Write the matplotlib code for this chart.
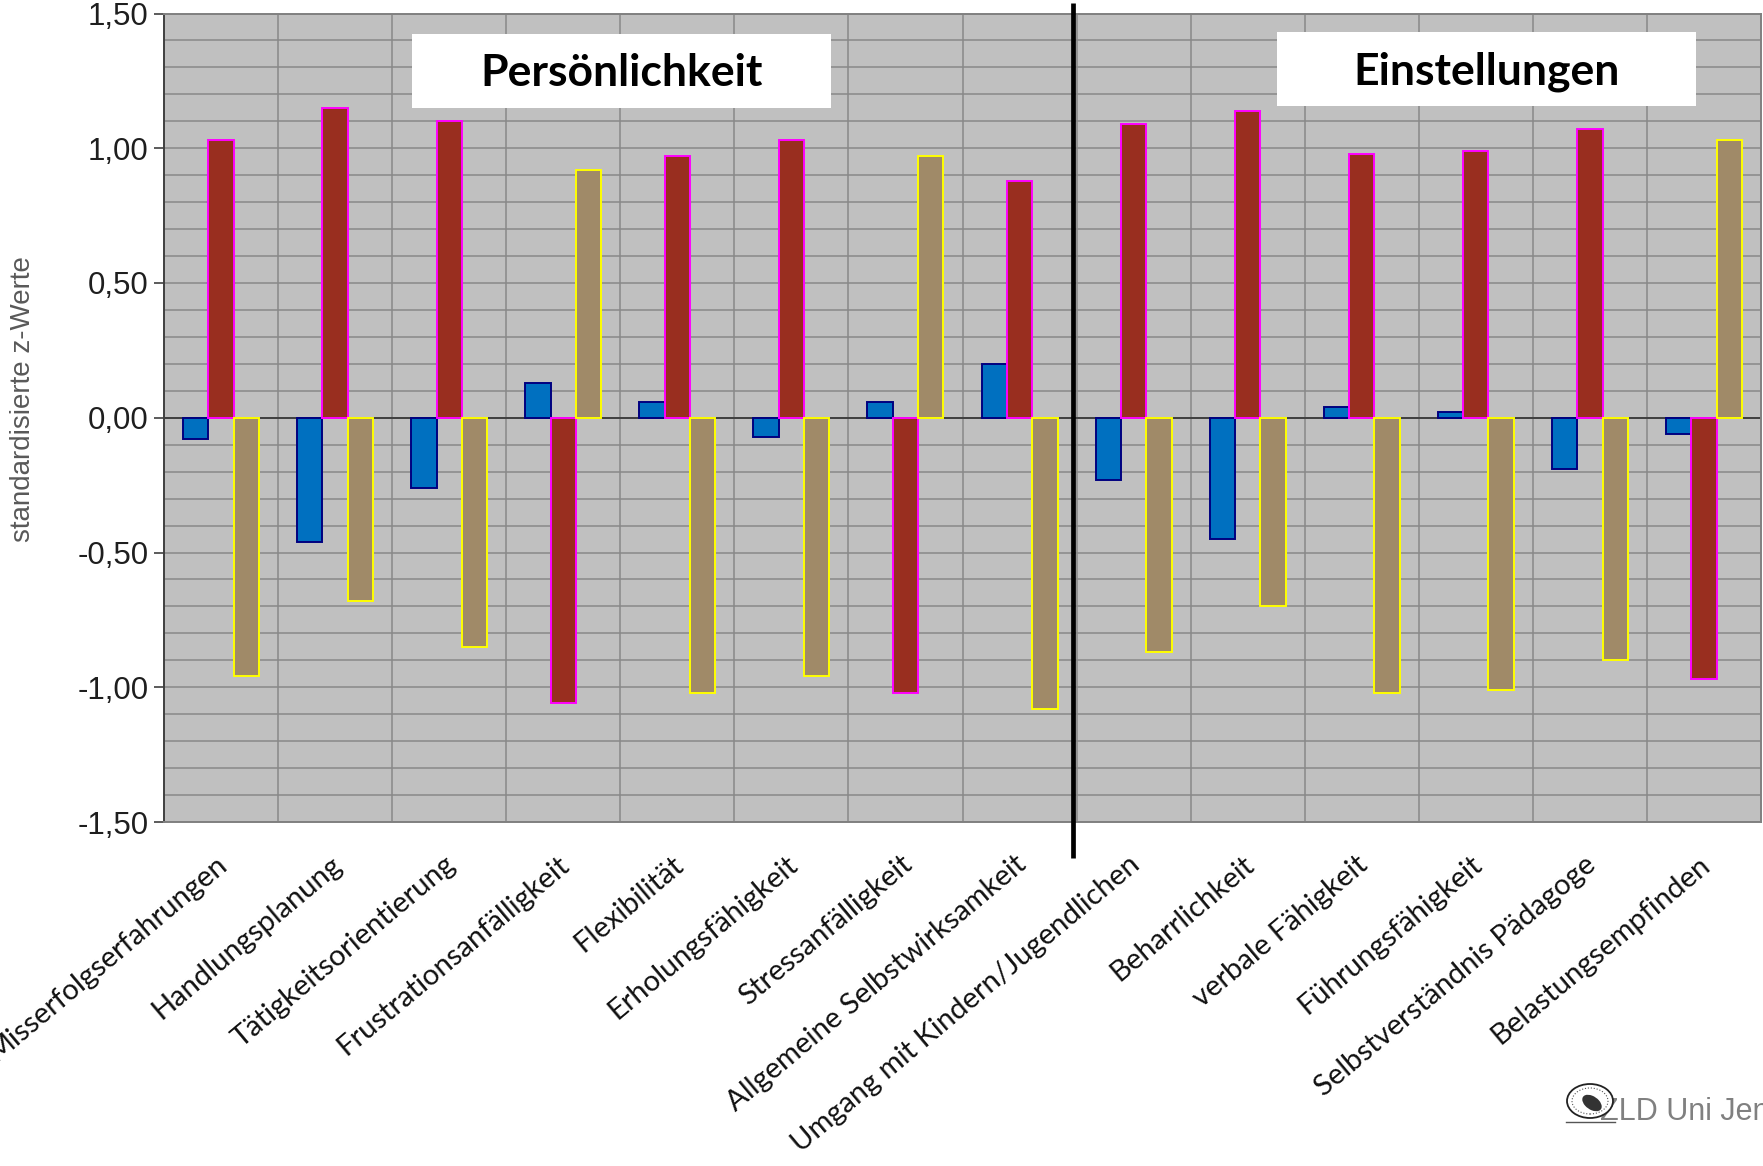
import matplotlib
matplotlib.use("Agg")
import matplotlib.pyplot as plt
import numpy as np
from matplotlib.patches import Rectangle, Ellipse
from matplotlib.ticker import FixedLocator, MultipleLocator
from matplotlib.transforms import ScaledTranslation

# ---- data -------------------------------------------------------------
categories = [
    "Misserfolgserfahrungen", "Handlungsplanung", "Tätigkeitsorientierung",
    "Frustrationsanfälligkeit", "Flexibilität", "Erholungsfähigkeit",
    "Stressanfälligkeit", "Allgemeine Selbstwirksamkeit",
    "Umgang mit Kindern/Jugendlichen", "Beharrlichkeit", "verbale Fähigkeit",
    "Führungsfähigkeit", "Selbstverständnis Pädagoge", "Belastungsempfinden",
]
values_blue = [-0.08, -0.46, -0.26, 0.13, 0.06, -0.07, 0.06, 0.20,
               -0.23, -0.45, 0.04, 0.02, -0.19, -0.06]
values_red = [1.03, 1.15, 1.10, -1.06, 0.97, 1.03, -1.02, 0.88,
              1.09, 1.14, 0.98, 0.99, 1.07, -0.97]
values_tan = [-0.96, -0.68, -0.85, 0.92, -1.02, -0.96, 0.97, -1.08,
              -0.87, -0.70, -1.02, -1.01, -0.90, 1.03]
y_tick_values = [-1.5, -1.0, -0.5, 0.0, 0.5, 1.0, 1.5]
y_tick_labels = ["-1,50", "-1,00", "-0,50", "0,00", "0,50", "1,00", "1,50"]
y_label = "standardisierte z-Werte"
group_titles = ["Persönlichkeit", "Einstellungen"]
footer_text = "ZLD Uni Jena"

# ---- figure -----------------------------------------------------------
W, H = 1763, 1166
fig = plt.figure(figsize=(W / 100, H / 100), dpi=100)
fig.patch.set_facecolor("white")

ax_left, ax_right, ax_top, ax_bottom = 164, 1761, 13.5, 822
ax = fig.add_axes([ax_left / W, 1 - ax_bottom / H,
                   (ax_right - ax_left) / W, (ax_bottom - ax_top) / H])
ax.set_facecolor("#c0c0c0")

x = np.arange(len(categories))
bw = 0.222
ax.bar(x - bw, values_blue, bw, color="#0070c0", edgecolor="#000080",
       linewidth=1.4, zorder=3)
ax.bar(x, values_red, bw, color="#992e1f", edgecolor="#ff00ff",
       linewidth=1.4, zorder=3)
ax.bar(x + bw, values_tan, bw, color="#a08a68", edgecolor="#ffff00",
       linewidth=1.4, zorder=3)

ax.set_xlim(-0.5, len(categories) - 0.5)
ax.set_ylim(-1.5, 1.5)

# y axis: labelled every 0.5, grid every 0.1
ax.yaxis.set_major_locator(FixedLocator(y_tick_values))
ax.set_yticklabels(y_tick_labels, family="Liberation Sans", fontsize=22.5,
                   color="#1e1e1e")
ax.yaxis.set_minor_locator(MultipleLocator(0.1))
ax.tick_params(axis="y", which="major", length=7, width=1.2,
               color="#404040", pad=4, direction="out")
ax.tick_params(axis="y", which="minor", length=0)
ax.yaxis.grid(True, which="both", color="#888888", linewidth=1.1, zorder=0)

# x axis: labels at category centres, grid at category boundaries
ax.set_xticks(x)
ax.set_xticks(np.arange(0.5, len(categories) - 0.5, 1.0), minor=True)
ax.set_xticklabels(categories, rotation=40, ha="right", va="top",
                   rotation_mode="anchor", family="Lato", fontsize=21,
                   color="#111111")
ax.tick_params(axis="x", which="major", length=0, pad=21)
ax.tick_params(axis="x", which="minor", length=0)
shift = ScaledTranslation(-0.055, 0, fig.dpi_scale_trans)
for lbl in ax.get_xticklabels():
    lbl.set_transform(lbl.get_transform() + shift)
ax.xaxis.grid(True, which="minor", color="#888888", linewidth=1.1, zorder=0)
ax.set_axisbelow(True)

ax.axhline(0, color="#404040", linewidth=1.4, zorder=2.5)

for side in ["top", "right", "bottom"]:
    ax.spines[side].set_color("#808080")
    ax.spines[side].set_linewidth(1.4)
ax.spines["left"].set_color("#404040")
ax.spines["left"].set_linewidth(1.4)

ax.set_ylabel(y_label, family="Liberation Sans", fontsize=20,
              color="#595959")
ax.yaxis.set_label_coords(-0.080, 0.523)

# divider between the two groups of scales
ax.plot([7.465, 7.465], [1.013, -0.045], transform=ax.get_xaxis_transform(),
        color="black", linewidth=3.4, clip_on=False, zorder=6,
        solid_capstyle="butt")

# group headings in white boxes
boxes = [(1.67, 1.15, 3.68, 0.275), (9.26, 1.158, 3.67, 0.275)]
for (bx, by, bwid, bh), title in zip(boxes, group_titles):
    ax.add_patch(Rectangle((bx, by), bwid, bh, facecolor="white",
                           edgecolor="none", zorder=4))
    ax.text(bx + bwid / 2, by + bh / 2 - 0.01, title, ha="center",
            va="center", family="Lato", fontweight="bold", fontsize=32,
            color="black", zorder=5)

# footer with seal
fig.text(1600 / W, 1 - 1120 / H, footer_text, family="Liberation Sans",
         fontsize=22, color="#808080", ha="left", va="baseline")
seal = Ellipse((1590 / W, 1 - 1101 / H), 46 / W, 34 / H,
               transform=fig.transFigure, facecolor="white",
               edgecolor="#222222", linewidth=1.3, zorder=10)
fig.add_artist(seal)
seal_in = Ellipse((1590 / W, 1 - 1101 / H), 36 / W, 26 / H,
                  transform=fig.transFigure, facecolor="none",
                  edgecolor="#555555", linewidth=0.8, linestyle=":",
                  zorder=11)
fig.add_artist(seal_in)
seal_core = Ellipse((1592 / W, 1 - 1103 / H), 16 / W, 18 / H, angle=30,
                    transform=fig.transFigure, facecolor="#333333",
                    edgecolor="none", zorder=12)
fig.add_artist(seal_core)
fig.add_artist(plt.Line2D([1566 / W, 1615 / W], [1 - 1122 / H, 1 - 1122 / H],
                          transform=fig.transFigure, color="#555555",
                          linewidth=1.0, zorder=12))

fig.savefig("out.png", dpi=100, facecolor="white")
